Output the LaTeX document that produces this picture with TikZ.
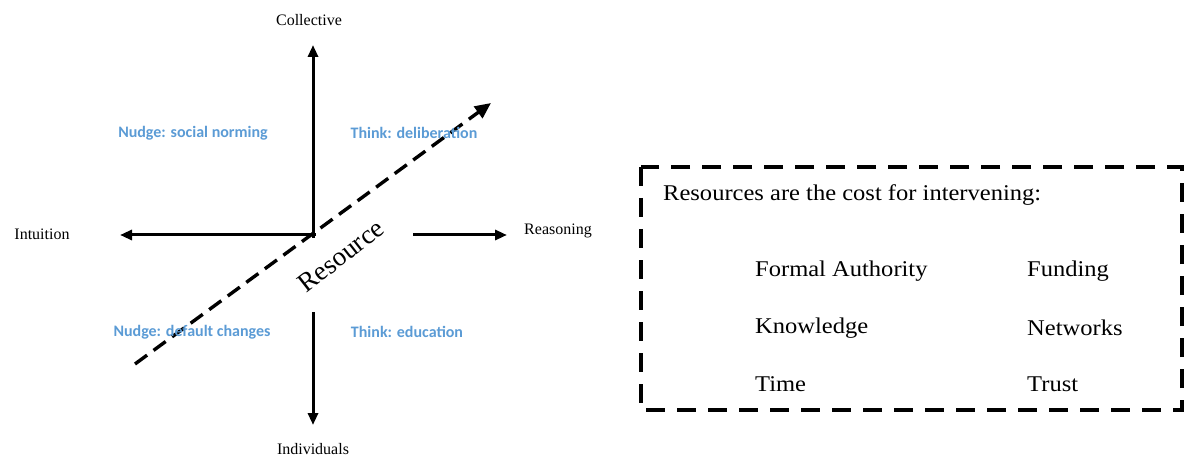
\documentclass[tikz,border=0pt]{standalone}
\usepackage{fontspec}
\setmainfont{Liberation Serif}
\newfontfamily\labelsans{Carlito}
\newfontfamily\boxserif[FakeStretch=1.09]{Liberation Serif}
\usetikzlibrary{arrows.meta}
\definecolor{quadblue}{HTML}{5B9BD5}
\begin{document}
\begin{tikzpicture}[x=1pt,y=-1pt,
  axis/.style={line width=3pt,-{Triangle[length=12pt,width=10pt]}},
  axislabel/.style={font=\fontsize{16}{19}\selectfont,inner sep=0pt},
  quadlabel/.style={font=\labelsans\bfseries\fontsize{16}{19}\selectfont,text=quadblue,inner sep=0pt},
  boxtext/.style={font=\boxserif\fontsize{22.5}{26}\selectfont,inner sep=0pt,anchor=west},
  costarrow/.style={line width=3.4pt,dash pattern=on 15pt off 8pt,-{Triangle[length=16pt,width=14pt]}},
  costbox/.style={line width=3.8pt,dash pattern=on 19pt off 12pt}]
\useasboundingbox (0,0) rectangle (1186,457);

% axis end points
\coordinate (Otop) at (313,238);
\coordinate (Ttop) at (313,45);
\coordinate (Bstart) at (313,312);
\coordinate (Tbot) at (313,425);
\coordinate (Lstart) at (316,235);
\coordinate (Tleft) at (120,235);
\coordinate (Rstart) at (413,235);
\coordinate (Tright) at (507,235);
\coordinate (Cstart) at (135,364);
\coordinate (Cend) at (491,103);

% axis labels
\node[axislabel] (collective) at (309,20) {Collective};
\node[axislabel] (individuals) at (313,449) {Individuals};
\node[axislabel] (intuition) at (42,234) {Intuition};
\node[axislabel] (reasoning) at (558,231) {Reasoning};

% axes
\draw[axis] (Otop) -- (Ttop);
\draw[axis] (Bstart) -- (Tbot);
\draw[axis] (Lstart) -- (Tleft);
\draw[axis] (Rstart) -- (Tright);

% resource arrow
\draw[costarrow] (Cstart) -- (Cend);
\node[font=\fontsize{27}{30}\selectfont,rotate=38,inner sep=0pt] (resource) at (341,256) {Resource};

% quadrant labels
\node[quadlabel] (socnorm) at (193,133) {Nudge: social norming};
\node[quadlabel] (delib) at (414,133) {Think: deliberation};
\node[quadlabel] (default) at (192,332) {Nudge: default changes};
\node[quadlabel] (educ) at (407,332) {Think: education};

% resources box
\draw[costbox] (641,167) rectangle (1182,410);
\node[boxtext] (head) at (663,195) {Resources are the cost for intervening:};
\node[boxtext] (formal) at (755,271) {Formal Authority};
\node[boxtext] (funding) at (1027,271) {Funding};
\node[boxtext] (knowledge) at (755,328) {Knowledge};
\node[boxtext] (networks) at (1027,328) {Networks};
\node[boxtext] (time) at (755,384) {Time};
\node[boxtext] (trust) at (1027,384) {Trust};
\end{tikzpicture}
\end{document}
